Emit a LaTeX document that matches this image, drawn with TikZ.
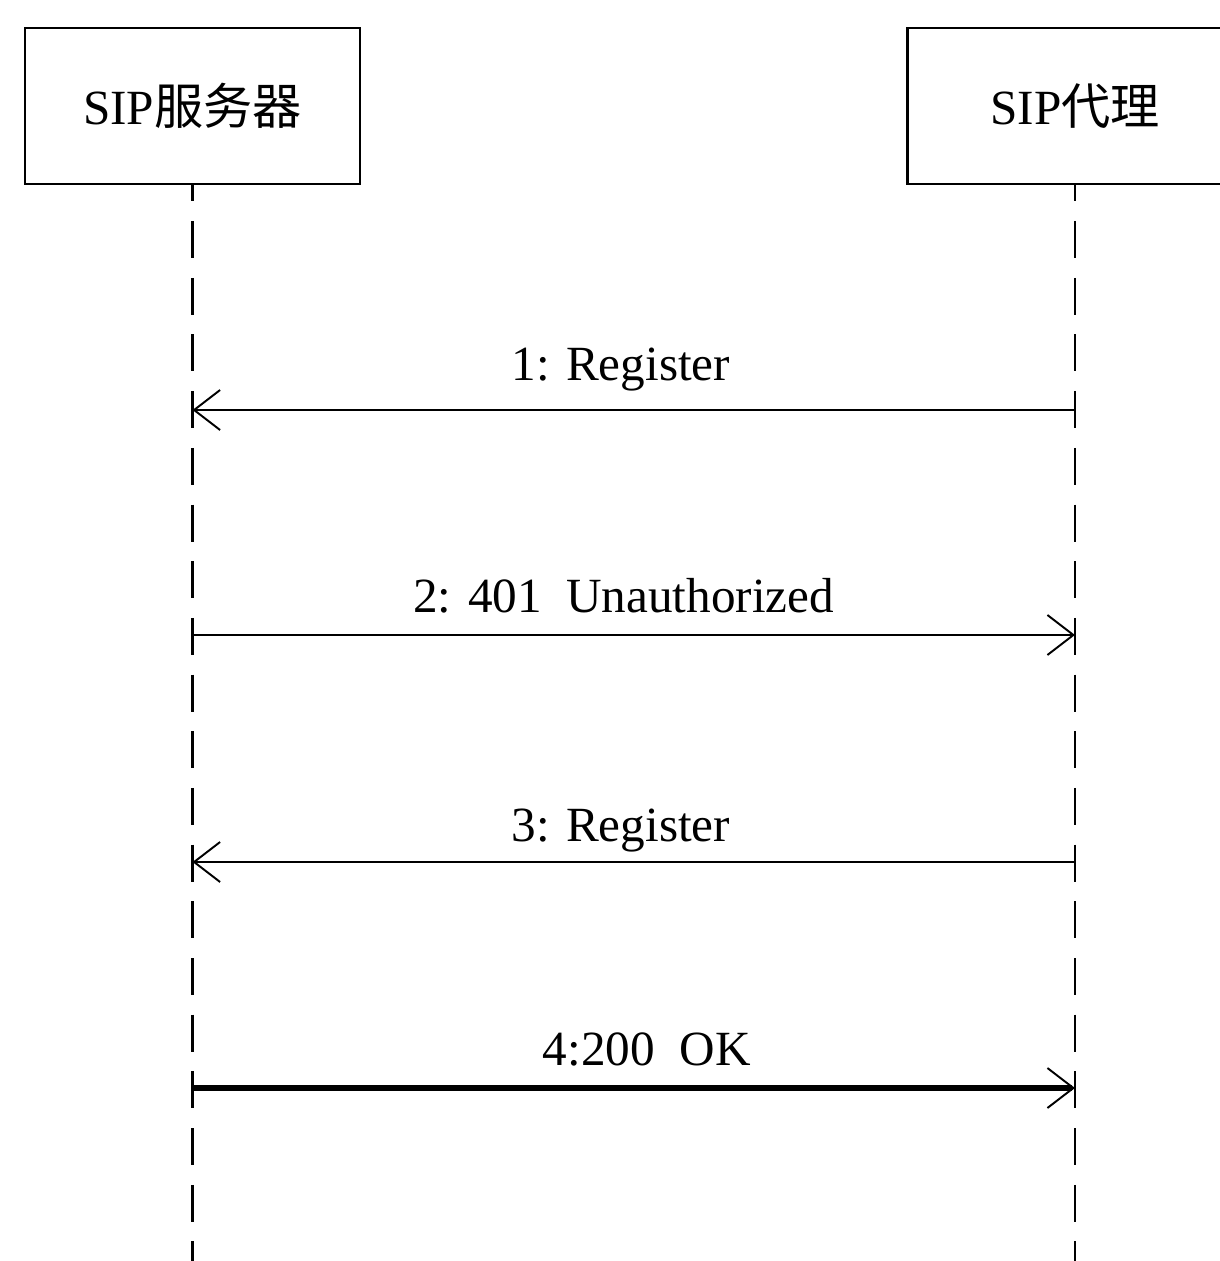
\documentclass[tikz,border=0pt]{standalone}
\usepackage{fontspec}
\setmainfont{Liberation Serif}
\newfontfamily\cjk{Noto Sans CJK SC}
\usetikzlibrary{arrows.meta}
\usetikzlibrary{positioning}
\tikzset{
% open arrow tip for the messages
>={Straight Barb[length=0.52cm, width=0.8cm, line width=1.1pt]}
}

\begin{document}
\begin{tikzpicture}[x=0.02cm, y=-0.02cm,
    actor/.style={draw=black, line width=1.6pt, minimum width=6.7cm, minimum height=3.12cm,
      inner sep=0, font=\fontsize{28}{34}\selectfont},
    lifeline/.style={draw=black, line width=1.5pt, dash pattern=on 0.74cm off 0.394cm, dash phase=0.42cm},
    msg/.style={->, draw=black, line width=1.1pt},
    msglabel/.style={anchor=base, inner sep=0, font=\fontsize{28}{34}\selectfont}]
  \useasboundingbox (0,0) rectangle (1220,1261);
  \clip (0,0) rectangle (1220,1261);

  \node[actor] (server) at (192.5,106) {SIP{\cjk 服务器}};
  \node[actor] (proxy) at (1075,106) {SIP{\cjk 代理}};

  % lifelines
  \coordinate (serverend) at (server.south |- 0,1270);
  \coordinate (proxyend) at (proxy.south |- 0,1270);
  \draw[lifeline] (server.south) -- (serverend);
  \draw[lifeline] (proxy.south) -- (proxyend);

  % message ends on the lifelines
  \coordinate (m1s) at (server.south |- 0,410);
  \coordinate (m1p) at (proxy.south |- 0,410);
  \coordinate (m2s) at (server.south |- 0,635);
  \coordinate (m2p) at (proxy.south |- 0,635);
  \coordinate (m3s) at (server.south |- 0,862);
  \coordinate (m3p) at (proxy.south |- 0,862);
  \coordinate (m4s) at (server.south |- 0,1088);
  \coordinate (m4p) at (proxy.south |- 0,1088);

  \draw[msg] (m1p) -- node[msglabel, midway, xshift=-0.26cm, yshift=0.6cm] (lbl1) {1: Register} (m1s);
  \draw[msg] (m2s) -- node[msglabel, midway, xshift=-0.2cm, yshift=0.46cm] (lbl2) {2: 401\ \ Unauthorized} (m2p);
  \draw[msg] (m3p) -- node[msglabel, midway, xshift=-0.26cm, yshift=0.42cm] (lbl3) {3: Register} (m3s);
  \draw[msg, line width=3.4pt] (m4s) -- node[msglabel, midway, xshift=0.26cm, yshift=0.46cm] (lbl4) {4:200\ \ OK} (m4p);
\end{tikzpicture}
\end{document}
